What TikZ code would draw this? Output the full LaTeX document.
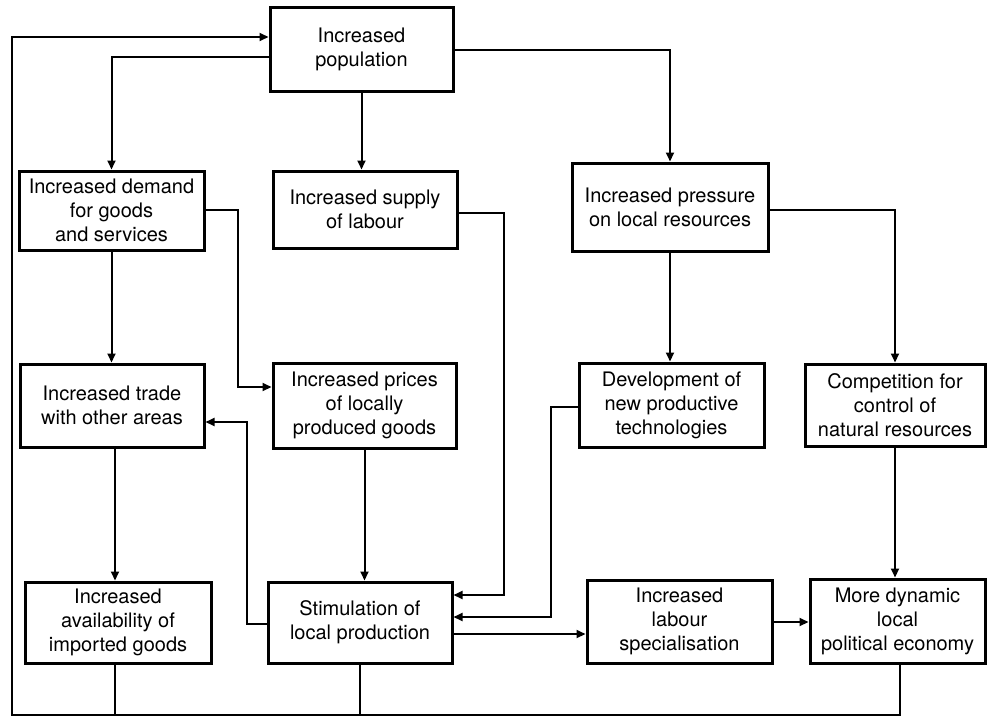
\documentclass[tikz,border=0pt]{standalone}
\usepackage{fontspec}
\setmainfont{TeX Gyre Heros}
\usetikzlibrary{arrows.meta}
\begin{document}
\begin{tikzpicture}[x=1pt,y=-1pt,
  box/.style={draw,line width=3pt,inner sep=0pt,align=center,
    font=\fontsize{20}{24}\selectfont},
  arr/.style={line width=2pt,-{Triangle[length=9pt,width=8pt]}},
  ln/.style={line width=2pt}]
\useasboundingbox[fill=white] (0,0) rectangle (987,717);
\node[box,minimum width=183,minimum height=83] (pop) at (361.5,49.5) {Increased\\population};
\node[box,minimum width=185,minimum height=79] (dem) at (111.5,210.5) {Increased demand\\for goods\\and services};
\node[box,minimum width=184,minimum height=77] (sup) at (365,209.5) {Increased supply\\of labour};
\node[box,minimum width=196,minimum height=88] (pre) at (670,207) {Increased pressure\\on local resources};
\node[box,minimum width=184,minimum height=83] (tra) at (112,405.5) {Increased trade\\with other areas};
\node[box,minimum width=183,minimum height=85] (pri) at (364.5,405.5) {Increased prices\\of locally\\produced goods};
\node[box,minimum width=185,minimum height=84] (dev) at (671.5,405) {Development of\\new productive\\technologies};
\node[box,minimum width=180,minimum height=82] (com) at (895,405) {Competition for\\control of\\natural resources};
\node[box,minimum width=186,minimum height=81] (ava) at (118,622.5) {Increased\\availability of\\imported goods};
\node[box,minimum width=184,minimum height=81] (sti) at (360,622.5) {Stimulation of\\local production};
\node[box,minimum width=185,minimum height=83] (lab) at (679.5,621.5) {Increased\\labour\\specialisation};
\node[box,minimum width=175,minimum height=84] (dyn) at (897.5,621) {More dynamic\\local\\political economy};
% connectors
\draw[arr] (pop.west |- 0,57) -| (dem.north);
\draw[arr] (pop.south) -- (pop.south |- sup.north);
\draw[arr] (pop.east |- 0,50) -| (pre.north);
\draw[arr] (dem.east |- 0,210) -| (238,387) -- (pri.west |- 0,387);
\draw[arr] (dem.south) -- (dem.south |- tra.north);
\draw[arr] (sup.east |- 0,213) -| (504,595) -- (sti.east |- 0,595);
\draw[arr] (pre.south) -- (pre.south |- dev.north);
\draw[arr] (pre.east |- 0,210) -| (com.north);
\draw[arr] (tra.south -| 115,0) -- (ava.north -| 115,0);
\draw[arr] (pri.south) -- (pri.south |- sti.north);
\draw[arr] (sti.west |- 0,624) -| (247,422) -- (tra.east |- 0,422);
\draw[arr] (dev.west |- 0,407) -| (551,617) -- (sti.east |- 0,617);
\draw[arr] (sti.east |- 0,634) -- (lab.west |- 0,634);
\draw[arr] (com.south) -- (com.south |- dyn.north);
\draw[arr] (lab.east |- 0,622) -- (dyn.west |- 0,622);
% feedback
\coordinate (bl) at (12,715);
\draw[ln] (ava.south -| 115,0) -- (115,715);
\draw[ln] (sti.south) -- (sti.south |- bl);
\draw[arr] (dyn.south -| 900,0) |- (bl) -- (12,37) -- (pop.west |- 0,37);
\end{tikzpicture}
\end{document}
